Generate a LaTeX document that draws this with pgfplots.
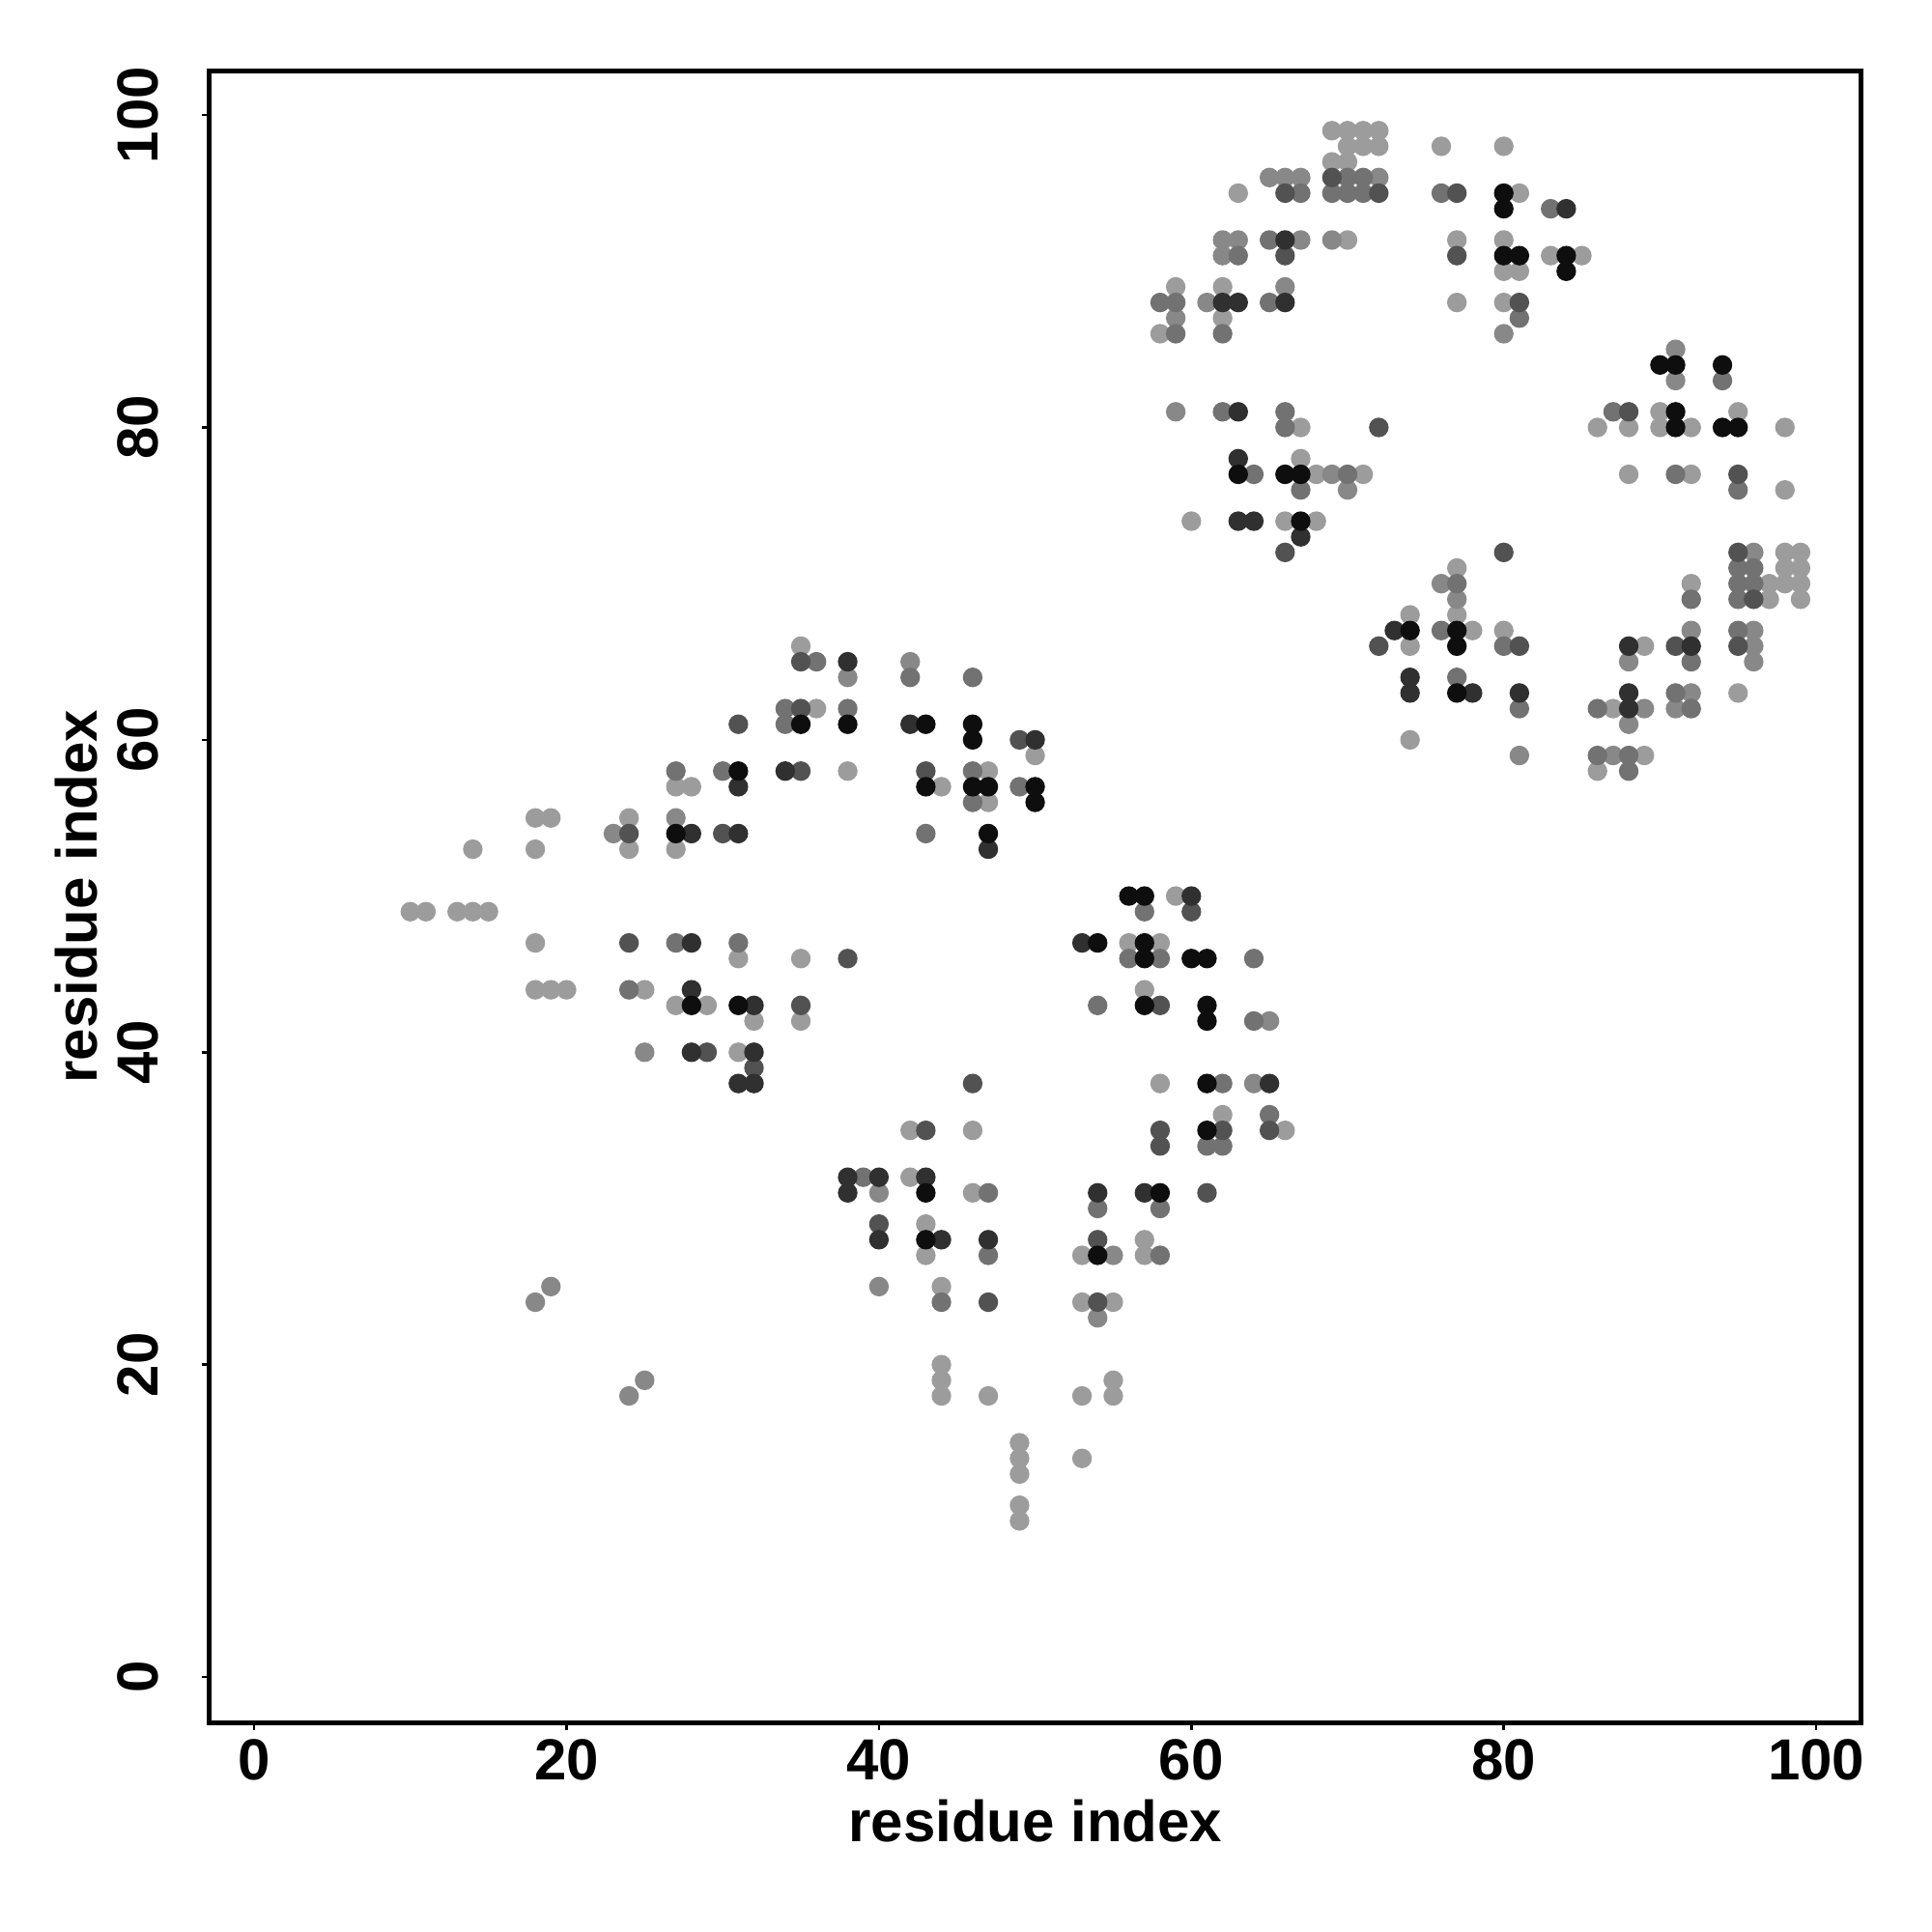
\documentclass[border=0pt]{standalone}
\usepackage{fontspec}
\setmainfont{Liberation Sans}
\usepackage{pgfplots}
\pgfplotsset{compat=1.18}
\definecolor{ga}{RGB}{156,156,156}
\definecolor{gb}{RGB}{136,136,136}
\definecolor{gc}{RGB}{114,114,114}
\definecolor{gd}{RGB}{82,82,82}
\definecolor{ge}{RGB}{48,48,48}
\definecolor{gf}{RGB}{14,14,14}
\begin{document}
\begin{tikzpicture}
\begin{axis}[
  scale only axis, width=342pt, height=342pt,
  xmin=-2.85, xmax=102.9, ymin=-2.9, ymax=102.85,
  xtick={0,20,...,100}, ytick={0,20,...,100},
  tick align=outside, major tick length=1.6pt,
  tick style={line width=0.55pt, black},
  xtick pos=bottom, ytick pos=left,
  axis line style={line width=1pt},
  /pgf/number format/assume math mode=true,
  tick label style={font=\fontsize{12}{14}\selectfont\bfseries},
  xticklabel style={anchor=north, inner sep=0pt},
  xticklabel shift=1.8pt,
  yticklabel style={rotate=90, anchor=base, inner sep=0pt},
  yticklabel shift=9pt,
  xlabel={residue index}, ylabel={residue index},
  label style={font=\fontsize{12}{14}\selectfont\bfseries},
  xlabel style={at={(axis description cs:0.5,-0.0725)}, anchor=base},
  ylabel style={at={(axis description cs:-0.0684,0.5)}, anchor=base},
  every axis plot/.append style={only marks, mark=*, mark size=1.83pt},
]
% lightest
\addplot[color=ga] coordinates {
(27,57)(28,57)(18,55)(19,55)(24,55)(24,53)(27,53)(14,53)(18,53)(10,49)(11,49)(13,49)(14,49)(15,49)(18,47)(31,46)(18,44)(19,44)(20,44)(25,44)(27,43)(29,43)(32,42)(31,40)
(35,66)(36,62)(50,59)(38,58)(44,57)(47,58)(47,56)(35,46)(35,42)
(42,35)(46,35)(42,32)(46,31)(43,29)(43,27)(44,25)(44,20)(44,19)(44,18)(47,18)(53,18)(55,19)(55,18)(49,15)(49,14)(49,13)(49,11)(49,10)(53,14)
(59,50)(56,47)(58,47)(57,44)(58,38)(62,36)(66,35)(53,27)(57,28)(57,27)(53,24)(55,24)
(69,99)(70,99)(71,99)(72,99)(70,98)(71,98)(72,98)(69,97)(70,97)(63,95)(70,92)(59,89)(62,89)(62,87)(58,86)(67,80)(67,78)(68,77)(71,77)(60,74)(66,74)(68,74)
(76,98)(80,98)(81,95)(77,92)(80,92)(80,90)(81,90)(83,91)(85,91)(77,88)(80,88)
(77,71)(77,68)(74,68)(78,67)(80,67)(74,66)(74,60)
(98,72)(99,72)(98,71)(99,71)(97,70)(98,70)(99,70)(97,69)(99,69)(92,70)(89,66)(95,63)(87,62)(89,59)(86,58)
(90,81)(86,80)(88,80)(90,80)(92,80)(95,81)(98,80)(88,77)(92,77)(98,76)
};
\addplot[color=gb] coordinates {
(23,54)(27,55)(25,40)(38,64)(42,65)(40,31)(40,25)(55,27)(65,42)(64,38)(54,23)
(65,96)(66,96)(67,96)(72,96)(62,92)(63,92)(67,92)(69,92)(62,91)(66,89)(61,88)(59,87)(59,81)(69,77)(70,76)
(80,86)(76,70)(77,69)(81,59)
(96,72)(92,67)(96,67)(96,66)(88,65)(96,65)(92,63)(89,62)(91,62)(88,61)(87,59)
(91,85)(91,83)
(18,24)(19,25)(24,18)(25,19)
};
\addplot[color=gc] coordinates {
(27,58)(30,58)(27,47)(31,47)(24,44)
(36,65)(42,64)(46,64)(34,62)(38,62)(34,61)(46,58)(46,56)(49,57)(43,54)
(39,32)(47,31)(47,27)(44,24)
(57,49)(56,46)(58,46)(64,46)(54,43)(64,42)(62,38)(61,34)(62,34)(65,36)(54,30)(58,30)(58,27)
(70,96)(71,96)(67,95)(69,95)(70,95)(71,95)(65,92)(63,91)(58,88)(59,88)(65,88)(59,86)(62,86)(62,81)(66,81)(66,80)(64,77)(70,77)(67,76)
(76,95)(83,94)(81,87)
(77,70)(76,67)(80,66)(77,64)(81,62)
(86,62)(86,59)(88,59)(88,58)
(95,71)(96,71)(95,70)(96,70)(95,69)(92,69)(95,67)(92,65)(91,63)(92,62)
(87,81)(94,83)(91,77)(95,76)
};
\addplot[color=gd] coordinates {
(31,61)(24,54)(30,54)(24,47)(29,40)(32,39)
(35,65)(35,62)(49,60)(35,58)(43,58)(38,46)(35,43)(46,38)
(43,35)(40,29)(47,24)
(60,49)(58,43)(62,35)(65,35)(58,35)(58,34)(61,31)(54,28)(54,24)
(69,96)(66,95)(72,95)(66,91)(72,80)(66,72)
(77,95)(77,91)(81,88)
(80,72)(72,66)(81,66)
(95,72)(96,69)(91,66)(95,66)
(88,81)(95,77)
};
\addplot[color=ge] coordinates {
(31,57)(28,54)(31,54)(28,47)(28,44)(32,43)(28,40)(32,40)(31,38)(32,38)
(38,65)(42,61)(50,60)(34,58)(47,53)
(38,32)(40,32)(43,32)(38,31)(40,28)(44,28)(47,28)
(60,50)(53,47)(65,38)(54,31)(57,31)
(66,92)(62,88)(63,88)(66,88)(63,81)(63,78)(63,74)(64,74)(67,73)
(84,94)
(73,67)(74,64)(74,63)(78,63)(81,63)
(88,66)(92,66)(88,63)(88,62)
};
\addplot[color=gf] coordinates {
(31,58)(27,54)(28,43)(31,43)
(35,61)(38,61)(43,61)(46,61)(46,60)(43,57)(46,57)(47,57)(50,57)(50,56)(47,54)
(43,31)(43,28)
(56,50)(57,50)(54,47)(57,47)(57,46)(60,46)(61,46)(57,43)(61,43)(61,42)(61,38)(61,35)(58,31)(54,27)
(63,77)(66,77)(67,77)(67,74)
(80,95)(80,94)(80,91)(81,91)(84,91)(84,90)
(74,67)(77,67)(77,66)(77,63)
(90,84)(91,84)(94,84)(91,81)(91,80)(94,80)(95,80)
};
\coordinate (bl) at (rel axis cs:0,0);
\coordinate (tr) at (rel axis cs:1,1);
\end{axis}
\pgfresetboundingbox
\path ([shift={(-43.4pt,-43.4pt)}]bl) rectangle ([shift={(14.6pt,14.6pt)}]tr);
\end{tikzpicture}
\end{document}
